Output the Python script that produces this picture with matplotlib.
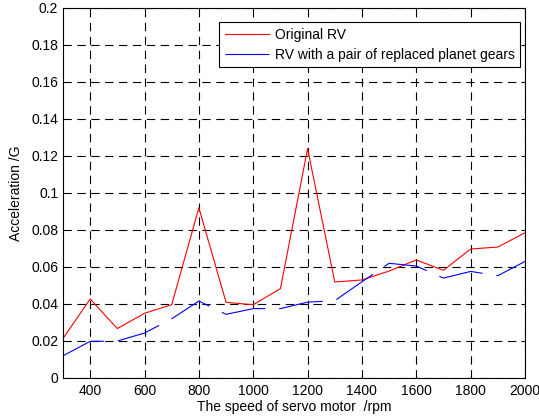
import matplotlib.pyplot as plt
import numpy as np

plt.rcParams['font.family'] = ['Liberation Sans', 'DejaVu Sans']
plt.rcParams['lines.scale_dashes'] = False

speed = [300, 400, 500, 600, 700, 800, 900, 1000, 1100, 1200,
         1300, 1400, 1500, 1600, 1700, 1800, 1900, 2000]
original_rv = [0.0214, 0.0427, 0.0267, 0.035, 0.0396, 0.092, 0.0409, 0.0396, 0.0483, 0.124,
               0.0519, 0.053, 0.0578, 0.0638, 0.0582, 0.0697, 0.0708, 0.0785]
replaced_rv = [0.012, 0.0198, 0.020, 0.0243, 0.032, 0.0416, 0.0344, 0.0375, 0.0375, 0.041,
               0.0418, 0.052, 0.062, 0.0605, 0.054, 0.0576, 0.0553, 0.063]

fig = plt.figure(figsize=(5.39, 4.18), dpi=100)
ax = fig.add_axes([0.1169, 0.0957, 0.8571, 0.8852])

ax.plot(speed, original_rv, color='#ff0000', lw=0.8, label='Original RV')
ax.plot(speed, replaced_rv, color='#0000ff', lw=0.8, dashes=(32, 10),
        label='RV with a pair of replaced planet gears')

ax.set_xlim(300, 2000)
ax.set_ylim(0, 0.2)
ax.set_xticks(np.arange(400, 2001, 200))
ax.set_yticks(np.arange(0, 0.201, 0.02))
ax.set_yticklabels(['0', '0.02', '0.04', '0.06', '0.08', '0.1', '0.12',
                    '0.14', '0.16', '0.18', '0.2'])
ax.grid(True, color='black', ls=(0, (6, 4)), lw=0.8)
ax.tick_params(direction='in', top=True, right=True, labelsize=10, length=3, width=0.6)
ax.tick_params(axis='x', pad=4)
for s in ax.spines.values():
    s.set_linewidth(0.8)

ax.set_xlabel('The speed of servo motor  /rpm', fontsize=10, labelpad=2)
ax.set_ylabel('Acceleration /G', fontsize=10, labelpad=6)

leg = ax.legend(loc='upper right', bbox_to_anchor=(520 / 539, 1 - 22 / 418),
                bbox_transform=fig.transFigure, fontsize=10, fancybox=False,
                framealpha=1, edgecolor='black', handlelength=3.2,
                handletextpad=0.4, borderpad=0.4, labelspacing=0.45, borderaxespad=0)
leg.get_frame().set_linewidth(0.8)

fig.savefig('out.png', dpi=100)
